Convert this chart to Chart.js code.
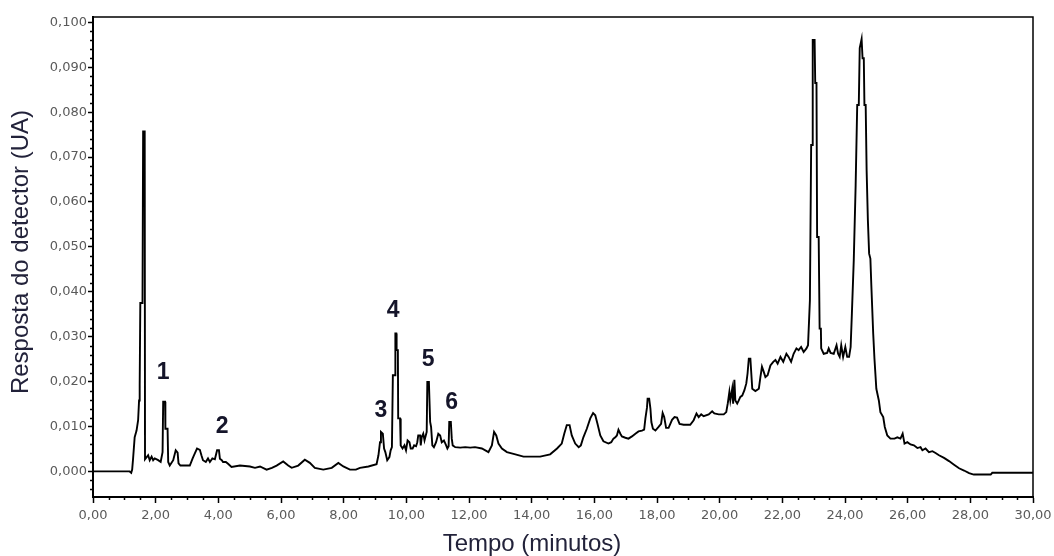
<!DOCTYPE html>
<html>
<head>
<meta charset="utf-8">
<script src="https://cdn.jsdelivr.net/npm/chart.js@4.4.1/dist/chart.umd.min.js"></script>
<style>
  html, body { margin: 0; padding: 0; background: #fff; }
  #wrap { width: 1054px; height: 556px; }
</style>
</head>
<body>
<div id="wrap"><canvas id="cromatograma" width="1054" height="556"></canvas></div>
<script>
const tempo = [
  0.00, 1.17, 1.22, 1.25, 1.28, 1.33, 1.39, 1.44, 1.47, 1.49, 1.51, 1.58, 1.60, 1.65, 1.66, 1.76, 1.81, 1.87, 1.92, 1.97,
  2.08, 2.16, 2.22, 2.24, 2.30, 2.31, 2.38, 2.40, 2.45, 2.56, 2.64, 2.70, 2.73, 2.79, 3.09, 3.18, 3.25, 3.32, 3.41, 3.46,
  3.51, 3.60, 3.67, 3.73, 3.81, 3.89, 3.96, 4.02, 4.05, 4.11, 4.15, 4.24, 4.31, 4.42, 4.69, 5.01, 5.17, 5.33, 5.54, 5.71,
  5.86, 6.07, 6.23, 6.34, 6.55, 6.76, 6.92, 7.08, 7.35, 7.62, 7.83, 7.99, 8.20, 8.39, 8.52, 8.79, 9.05, 9.11, 9.16, 9.19,
  9.25, 9.29, 9.33, 9.39, 9.46, 9.50, 9.54, 9.57, 9.64, 9.65, 9.68, 9.69, 9.73, 9.74, 9.80, 9.82, 9.88, 9.94, 9.99, 10.04,
  10.10, 10.14, 10.20, 10.25, 10.31, 10.35, 10.38, 10.44, 10.46, 10.49, 10.54, 10.58, 10.62, 10.65, 10.67, 10.72, 10.76, 10.79, 10.83, 10.88,
  10.95, 11.02, 11.08, 11.13, 11.20, 11.27, 11.31, 11.35, 11.37, 11.42, 11.45, 11.48, 11.56, 11.72, 11.88, 12.04, 12.19, 12.41, 12.62, 12.73,
  12.80, 12.87, 12.94, 13.05, 13.21, 13.42, 13.74, 14.06, 14.27, 14.59, 14.81, 14.96, 15.04, 15.12, 15.21, 15.28, 15.39, 15.50, 15.57, 15.65,
  15.76, 15.87, 15.96, 16.03, 16.10, 16.19, 16.29, 16.45, 16.54, 16.61, 16.67, 16.72, 16.77, 16.83, 16.88, 16.99, 17.09, 17.20, 17.31, 17.41,
  17.52, 17.59, 17.63, 17.68, 17.70, 17.75, 17.79, 17.82, 17.87, 17.95, 18.05, 18.13, 18.18, 18.23, 18.29, 18.37, 18.48, 18.56, 18.64, 18.72,
  18.85, 19.06, 19.17, 19.26, 19.33, 19.41, 19.49, 19.65, 19.76, 19.83, 19.97, 20.13, 20.21, 20.26, 20.31, 20.34, 20.40, 20.43, 20.47, 20.50,
  20.56, 20.61, 20.66, 20.72, 20.79, 20.85, 20.89, 20.93, 20.98, 21.01, 21.04, 21.14, 21.25, 21.30, 21.35, 21.41, 21.46, 21.53, 21.62, 21.71,
  21.78, 21.85, 21.94, 22.03, 22.13, 22.20, 22.28, 22.36, 22.45, 22.52, 22.60, 22.68, 22.77, 22.82, 22.88, 22.92, 22.96, 22.97, 23.03, 23.05,
  23.09, 23.11, 23.16, 23.19, 23.23, 23.24, 23.32, 23.43, 23.48, 23.54, 23.64, 23.73, 23.78, 23.83, 23.88, 23.94, 24.01, 24.07, 24.13, 24.18,
  24.22, 24.28, 24.34, 24.39, 24.44, 24.47, 24.53, 24.56, 24.60, 24.62, 24.66, 24.69, 24.73, 24.77, 24.81, 24.84, 24.90, 24.94, 25.00, 25.08,
  25.13, 25.22, 25.27, 25.35, 25.45, 25.58, 25.67, 25.77, 25.84, 25.90, 25.99, 26.09, 26.20, 26.31, 26.41, 26.47, 26.57, 26.68, 26.79, 26.89,
  27.00, 27.16, 27.32, 27.48, 27.64, 27.80, 27.96, 28.11, 28.65, 28.70, 30.00
];

const resposta = [
  0.0000, 0.0000, -0.0003, 0.0004, 0.0029, 0.0076, 0.0091, 0.0114, 0.0158, 0.0192, 0.0375, 0.0375, 0.0757, 0.0757, 0.0027, 0.0036, 0.0025, 0.0033, 0.0025, 0.0029,
  0.0025, 0.0021, 0.0043, 0.0155, 0.0155, 0.0095, 0.0095, 0.0021, 0.0013, 0.0025, 0.0047, 0.0042, 0.0018, 0.0013, 0.0013, 0.0029, 0.0040, 0.0051, 0.0048, 0.0036,
  0.0025, 0.0021, 0.0029, 0.0021, 0.0029, 0.0027, 0.0047, 0.0047, 0.0028, 0.0025, 0.0021, 0.0021, 0.0017, 0.0010, 0.0013, 0.0011, 0.0008, 0.0011, 0.0004, 0.0008,
  0.0013, 0.0022, 0.0013, 0.0008, 0.0013, 0.0026, 0.0019, 0.0008, 0.0004, 0.0008, 0.0019, 0.0011, 0.0004, 0.0004, 0.0008, 0.0011, 0.0016, 0.0036, 0.0065, 0.0088,
  0.0084, 0.0051, 0.0043, 0.0025, 0.0032, 0.0047, 0.0054, 0.0214, 0.0214, 0.0307, 0.0307, 0.0270, 0.0270, 0.0118, 0.0118, 0.0058, 0.0051, 0.0058, 0.0047, 0.0069,
  0.0065, 0.0051, 0.0051, 0.0058, 0.0056, 0.0065, 0.0080, 0.0080, 0.0058, 0.0076, 0.0084, 0.0069, 0.0080, 0.0088, 0.0199, 0.0199, 0.0110, 0.0099, 0.0058, 0.0054,
  0.0065, 0.0084, 0.0080, 0.0065, 0.0069, 0.0058, 0.0051, 0.0056, 0.0110, 0.0110, 0.0073, 0.0058, 0.0054, 0.0053, 0.0054, 0.0053, 0.0054, 0.0051, 0.0043, 0.0058,
  0.0088, 0.0080, 0.0062, 0.0051, 0.0043, 0.0039, 0.0033, 0.0033, 0.0033, 0.0038, 0.0051, 0.0062, 0.0084, 0.0103, 0.0103, 0.0080, 0.0062, 0.0054, 0.0058, 0.0076,
  0.0095, 0.0118, 0.0130, 0.0125, 0.0106, 0.0080, 0.0067, 0.0062, 0.0065, 0.0073, 0.0076, 0.0080, 0.0093, 0.0084, 0.0078, 0.0075, 0.0073, 0.0078, 0.0084, 0.0089,
  0.0091, 0.0093, 0.0118, 0.0142, 0.0162, 0.0162, 0.0140, 0.0110, 0.0095, 0.0091, 0.0099, 0.0106, 0.0130, 0.0121, 0.0097, 0.0097, 0.0115, 0.0121, 0.0120, 0.0106,
  0.0104, 0.0104, 0.0114, 0.0129, 0.0121, 0.0127, 0.0123, 0.0127, 0.0134, 0.0129, 0.0127, 0.0127, 0.0132, 0.0152, 0.0177, 0.0158, 0.0184, 0.0151, 0.0204, 0.0158,
  0.0151, 0.0158, 0.0166, 0.0169, 0.0181, 0.0196, 0.0218, 0.0251, 0.0251, 0.0218, 0.0184, 0.0179, 0.0184, 0.0210, 0.0233, 0.0221, 0.0210, 0.0214, 0.0236, 0.0244,
  0.0248, 0.0240, 0.0255, 0.0244, 0.0262, 0.0255, 0.0244, 0.0262, 0.0274, 0.0270, 0.0277, 0.0266, 0.0274, 0.0281, 0.0381, 0.0727, 0.0727, 0.0961, 0.0961, 0.0865,
  0.0865, 0.0522, 0.0522, 0.0318, 0.0318, 0.0274, 0.0262, 0.0264, 0.0274, 0.0264, 0.0262, 0.0281, 0.0262, 0.0255, 0.0281, 0.0255, 0.0277, 0.0255, 0.0255, 0.0277,
  0.0352, 0.0471, 0.0638, 0.0816, 0.0816, 0.0943, 0.0963, 0.0920, 0.0920, 0.0816, 0.0816, 0.0671, 0.0560, 0.0485, 0.0474, 0.0415, 0.0307, 0.0251, 0.0184, 0.0158,
  0.0132, 0.0121, 0.0099, 0.0080, 0.0073, 0.0073, 0.0076, 0.0073, 0.0084, 0.0062, 0.0065, 0.0060, 0.0058, 0.0052, 0.0054, 0.0047, 0.0051, 0.0043, 0.0045, 0.0041,
  0.0036, 0.0030, 0.0023, 0.0015, 0.0007, 0.0002, -0.0004, -0.0007, -0.0007, -0.0003, -0.0003
];

// marcadores dos picos identificados (centro do número)
const picoRotulos = ['1', '2', '3', '4', '5', '6'];
const picoTempo = [2.24, 4.12, 9.19, 9.58, 10.70, 11.45];
const picoResposta = [0.0221, 0.0099, 0.0136, 0.0358, 0.0249, 0.0152];

// marcas dos eixos
const xTicks = [0, 2, 4, 6, 8, 10, 12, 14, 16, 18, 20, 22, 24, 26, 28, 30];
const yTicks = [0, 0.01, 0.02, 0.03, 0.04, 0.05, 0.06, 0.07, 0.08, 0.09, 0.10];

const xTitulo = 'Tempo (minutos)';
const yTitulo = 'Resposta do detector (UA)';

const virgula = (v, casas) => v.toFixed(casas).replace('.', ',');

// ===== PLUGIN: moldura, marcas menores, números dos picos e títulos =====
const extras = {
    id: 'extras',
    afterDraw(chart) {
        const { ctx, chartArea: a, scales: { x, y } } = chart;
        ctx.save();

        // moldura (topo e direita)
        ctx.strokeStyle = '#000';
        ctx.lineWidth = 1.5;
        ctx.beginPath();
        ctx.moveTo(a.left, a.top);
        ctx.lineTo(a.right, a.top);
        ctx.lineTo(a.right, a.bottom);
        ctx.stroke();

        // marcas menores
        ctx.beginPath();
        for (let i = 1; i < 60; i++) {
            if (i % 4 === 0) continue;
            const px = Math.round(x.getPixelForValue(i * 0.5)) + 0.5;
            ctx.moveTo(px, a.bottom);
            ctx.lineTo(px, a.bottom + 3);
        }
        for (let i = -2; i <= 50; i++) {
            if (i % 5 === 0) continue;
            const py = Math.round(y.getPixelForValue(i * 0.002)) + 0.5;
            ctx.moveTo(a.left, py);
            ctx.lineTo(a.left - 3, py);
        }
        ctx.stroke();

        // números dos picos
        ctx.fillStyle = '#15152a';
        ctx.font = 'bold 23px "Liberation Sans", Arial, sans-serif';
        ctx.textAlign = 'center';
        ctx.textBaseline = 'middle';
        picoRotulos.forEach((r, i) => {
            ctx.fillText(r, x.getPixelForValue(picoTempo[i]), y.getPixelForValue(picoResposta[i]));
        });

        // títulos dos eixos
        ctx.fillStyle = '#22223a';
        ctx.font = '24px "Liberation Sans", Arial, sans-serif';
        ctx.textBaseline = 'alphabetic';
        ctx.fillText(xTitulo, 532, 551);

        ctx.translate(28, 252);
        ctx.rotate(-Math.PI / 2);
        ctx.fillText(yTitulo, 0, 0);

        ctx.restore();
    }
};

new Chart(document.getElementById('cromatograma'), {
    type: 'line',
    data: {
        datasets: [{
            data: tempo.map((t, i) => ({ x: t, y: resposta[i] })),
            borderColor: '#000',
            borderWidth: 1.9,
            pointRadius: 0,
            tension: 0,
            fill: false
        }]
    },
    options: {
        responsive: false,
        animation: false,
        layout: { padding: { top: 17, right: 21, bottom: 0, left: 0 } },
        plugins: {
            legend: { display: false },
            tooltip: { enabled: false }
        },
        scales: {
            x: {
                type: 'linear',
                min: 0,
                max: 30,
                afterFit: s => { s.height = 59; s.paddingLeft = 0; s.paddingRight = 0; },
                afterBuildTicks: s => { s.ticks = xTicks.map(v => ({ value: v })); },
                grid: { drawOnChartArea: false, tickLength: 6, tickWidth: 1.5, tickColor: '#000' },
                border: { color: '#000', width: 2 },
                ticks: {
                    color: '#5a5a5a',
                    font: { family: 'DejaVu Sans', size: 13 },
                    padding: 5,
                    maxRotation: 0,
                    autoSkip: false,
                    callback: v => virgula(v, 2)
                }
            },
            y: {
                min: -0.0057,
                max: 0.1012,
                afterFit: s => { s.width = 93; s.paddingTop = 0; s.paddingBottom = 0; },
                afterBuildTicks: s => { s.ticks = yTicks.map(v => ({ value: v })); },
                grid: { drawOnChartArea: false, tickLength: 5, tickWidth: 1.5, tickColor: '#000' },
                border: { color: '#000', width: 2 },
                ticks: {
                    color: '#5a5a5a',
                    font: { family: 'DejaVu Sans', size: 13 },
                    padding: 1,
                    autoSkip: false,
                    callback: v => virgula(v, 3)
                }
            }
        }
    },
    plugins: [extras]
});
</script>
</body>
</html>
